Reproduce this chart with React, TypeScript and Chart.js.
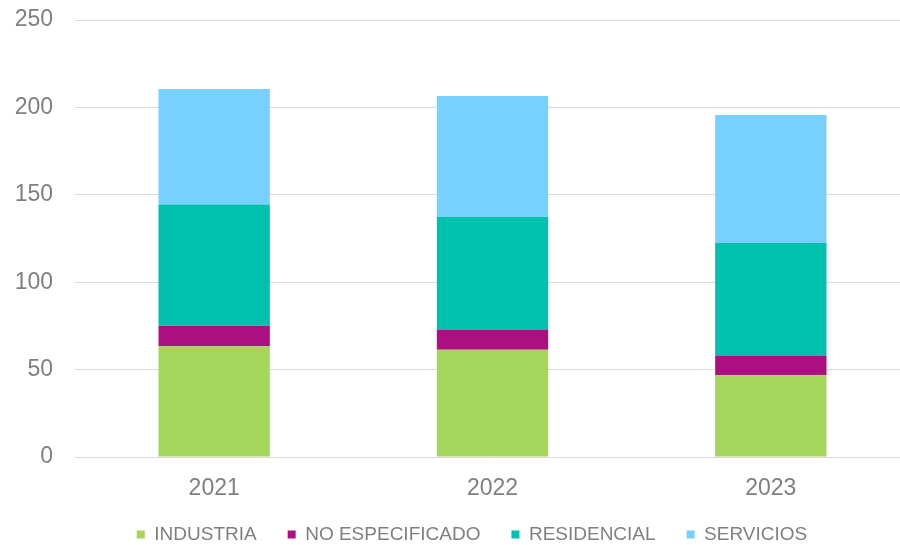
import React, { useEffect, useRef } from "react";
import { Chart, registerables } from "chart.js";

Chart.register(...registerables);

const years = ["2021", "2022", "2023"];
const industria = [63.3, 61.4, 46.7];
const noEspecificado = [11.8, 11.6, 11.3];
const residencial = [69.3, 64.3, 64.6];
const servicios = [66.1, 69.2, 73.1];
const yTicks = [0, 50, 100, 150, 200, 250];

const seriesNames = ["INDUSTRIA", "NO ESPECIFICADO", "RESIDENCIAL", "SERVICIOS"];
const seriesColors = ["#a5d65c", "#ae0f80", "#00c0ae", "#77d0ff"];

const textColor = "#7f7f7f";
const fontFamily = "'Liberation Sans', Arial, sans-serif";

const legendShift = {
  id: "legendShift",
  afterLayout(chart: any) {
    const l = chart.legend;
    if (l) {
      l.left = 34;
      l.width = l.right - l.left;
      l.top -= 5;
      l.bottom -= 5;
    }
  },
};

export default function App() {
  const ref = useRef<HTMLCanvasElement>(null);

  useEffect(() => {
    document.body.style.margin = "0";
    const values = [industria, noEspecificado, residencial, servicios];
    const chart = new Chart(ref.current as HTMLCanvasElement, {
      type: "bar",
      data: {
        labels: years,
        datasets: seriesNames.map((name, i) => ({
          label: name,
          data: values[i],
          backgroundColor: seriesColors[i],
          borderWidth: 0,
          barPercentage: 0.4,
          categoryPercentage: 1,
        })),
      },
      options: {
        responsive: false,
        animation: false,
        devicePixelRatio: 1,
        layout: { padding: { left: 0, right: 34, top: 20, bottom: -14 } },
        plugins: {
          legend: {
            position: "bottom",
            labels: {
              boxWidth: 8,
              boxHeight: 8,
              padding: 31,
              color: textColor,
              font: { family: fontFamily, size: 19 },
            },
          },
          tooltip: { enabled: false },
        },
        scales: {
          x: {
            stacked: true,
            grid: { display: false, drawTicks: false },
            border: { display: false },
            ticks: { color: textColor, font: { family: fontFamily, size: 23 }, padding: 18 },
            afterFit: (s: any) => {
              s.height = 42;
            },
          },
          y: {
            stacked: true,
            min: 0,
            max: 250,
            grid: { color: "#d9d9d9", drawTicks: false, lineWidth: 1 },
            border: { display: false },
            ticks: { color: textColor, font: { family: fontFamily, size: 23 }, padding: 22 },
            afterBuildTicks: (s: any) => {
              s.ticks = yTicks.map((v) => ({ value: v }));
            },
            afterFit: (s: any) => {
              s.width = 75;
              s.paddingTop = 0;
              s.paddingBottom = 0;
            },
          },
        },
      },
      plugins: [legendShift],
    } as any);
    return () => chart.destroy();
  }, []);

  return (
    <div style={{ width: 900, height: 545, overflow: "hidden", position: "relative" }}>
      <canvas ref={ref} width={944} height={545} style={{ display: "block" }} />
    </div>
  );
}
